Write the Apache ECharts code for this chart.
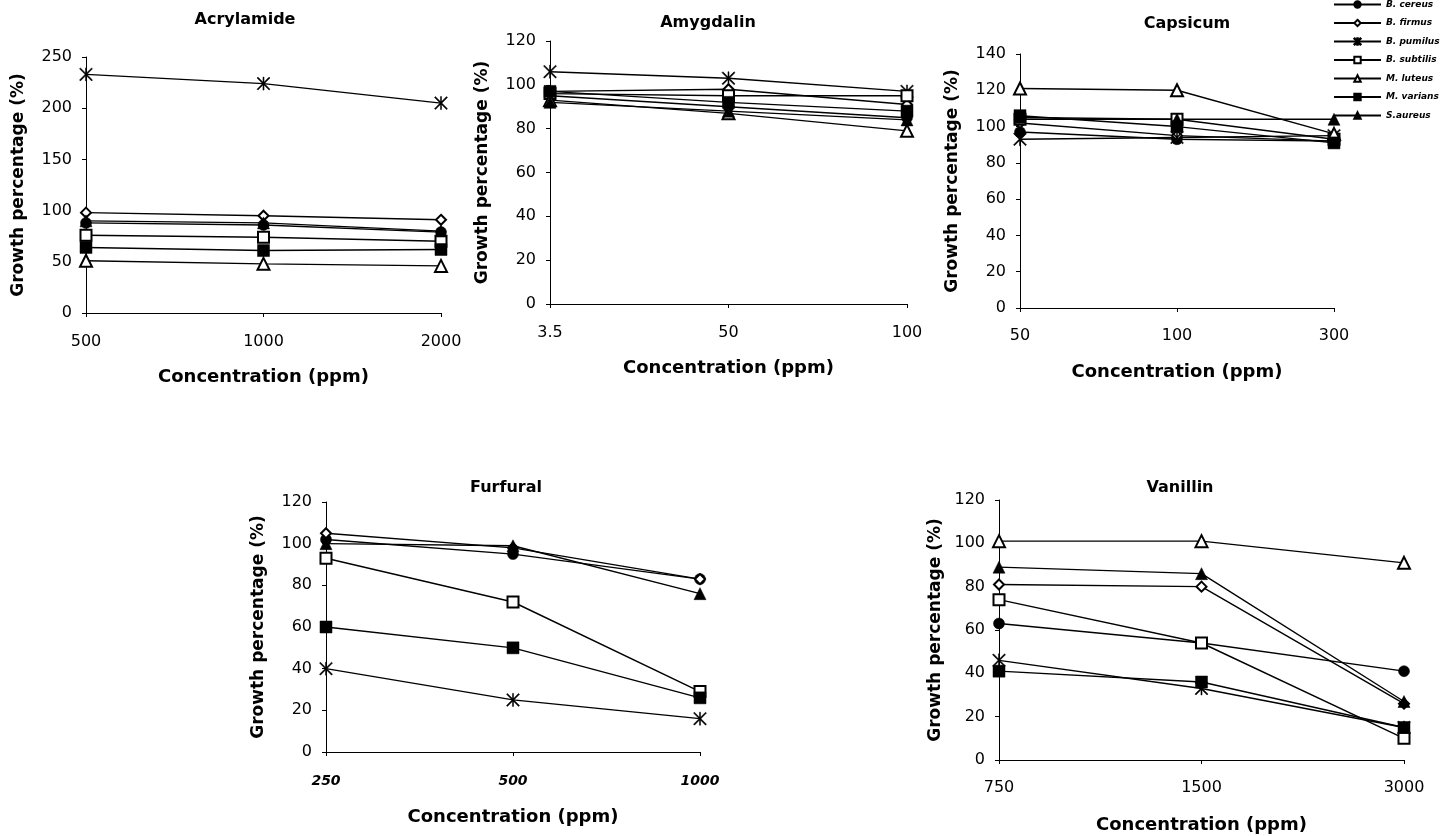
<!DOCTYPE html>
<html><head><meta charset="utf-8">
<script src="https://cdn.jsdelivr.net/npm/echarts@6/dist/echarts.min.js"></script>
<style>html,body{margin:0;padding:0;background:#fff}#c{width:1450px;height:836px}</style>
</head><body><div id="c"></div>
<script>
// ---- data ----
const bacteria = ['B. cereus', 'B. firmus', 'B. pumilus', 'B. subtilis', 'M. luteus', 'M. varians', 'S.aureus'];

const acrylamideConc = ['500', '1000', '2000'];
const acrylamideValues = [
  [88, 86, 79],
  [98, 95, 91],
  [233, 224, 205],
  [76, 74, 70],
  [51, 48, 46],
  [64, 61, 62],
  [90, 88, 80]
];

const amygdalinConc = ['3.5', '50', '100'];
const amygdalinValues = [
  [95, 90, 85],
  [97, 98, 91],
  [106, 103, 97],
  [96, 95, 95],
  [93, 87, 79],
  [97, 92, 88],
  [92, 88, 84]
];

const capsicumConc = ['50', '100', '300'];
const capsicumValues = [
  [97, 93, 92],
  [102, 95, 92],
  [93, 94, 95],
  [104, 104, 93],
  [121, 120, 96],
  [106, 100, 91],
  [105, 104, 104]
];

const furfuralConc = ['250', '500', '1000'];
const furfuralValues = [
  [102, 95, 83],
  [105, 98, 83],
  [40, 25, 16],
  [93, 72, 29],
  [null, null, null],
  [60, 50, 26],
  [100, 99, 76]
];

const vanillinConc = ['750', '1500', '3000'];
const vanillinValues = [
  [63, 54, 41],
  [81, 80, 26],
  [46, 33, 15],
  [74, 54, 10],
  [101, 101, 91],
  [41, 36, 15],
  [89, 86, 27]
];

// ---- styling ----
const asterisk = 'path://M0,0.7L0.7,0L10,9.3L9.3,10Z M9.3,0L10,0.7L0.7,10L0,9.3Z M4.6,0L5.4,0L5.4,10L4.6,10Z';
const symbols = ['circle', 'emptyDiamond', asterisk, 'emptyRect', 'emptyTriangle', 'rect', 'triangle'];
const symbolSizes = [11, 10, 13, 11, 12, 12, 12];

const panels = [
  {title: 'Acrylamide', conc: acrylamideConc, values: acrylamideValues, max: 250, interval: 50,
   grid: {left: 86, top: 57, width: 355, height: 256}, tx: 245, ty: 20, xGap: 55, yGap: 59, italic: false, lm: 21},
  {title: 'Amygdalin', conc: amygdalinConc, values: amygdalinValues, max: 120, interval: 20,
   grid: {left: 550, top: 41, width: 357, height: 263}, tx: 708, ty: 23, xGap: 55, yGap: 59, italic: false, lm: 21},
  {title: 'Capsicum', conc: capsicumConc, values: capsicumValues, max: 140, interval: 20,
   grid: {left: 1020, top: 54, width: 314, height: 254}, tx: 1187, ty: 24, xGap: 55, yGap: 59, italic: false, lm: 20},
  {title: 'Furfural', conc: furfuralConc, values: furfuralValues, max: 120, interval: 20,
   grid: {left: 326, top: 502, width: 374, height: 250}, tx: 506, ty: 488, xGap: 56, yGap: 59, italic: true, lm: 22},
  {title: 'Vanillin', conc: vanillinConc, values: vanillinValues, max: 120, interval: 20,
   grid: {left: 999, top: 500, width: 405, height: 260}, tx: 1180, ty: 488, xGap: 56, yGap: 55, italic: false, lm: 20}
];

const FONT = 'DejaVu Sans';
const grids = [], xAxes = [], yAxes = [], series = [], graphics = [];
panels.forEach((p, i) => {
  grids.push(Object.assign({containLabel: false}, p.grid));
  xAxes.push({
    type: 'category', gridIndex: i, data: p.conc, boundaryGap: false,
    name: 'Concentration (ppm)', nameLocation: 'middle', nameGap: p.xGap,
    nameTextStyle: {fontFamily: FONT, fontWeight: 'bold', fontSize: 18, color: '#000'},
    axisLine: {show: true, lineStyle: {color: '#000', width: 1}},
    axisTick: {show: true, length: 4, lineStyle: {color: '#000'}},
    axisLabel: {color: '#000', fontFamily: FONT, fontSize: p.italic ? 14 : 16, margin: p.lm,
      fontWeight: p.italic ? 'bold' : 'normal', fontStyle: p.italic ? 'italic' : 'normal',
      showMinLabel: true, showMaxLabel: true, interval: 0},
    splitLine: {show: false}
  });
  yAxes.push({
    type: 'value', gridIndex: i, min: 0, max: p.max, interval: p.interval,
    name: 'Growth percentage (%)', nameLocation: 'middle', nameGap: p.yGap, nameRotate: 90,
    nameTextStyle: {fontFamily: FONT, fontWeight: 'bold', fontSize: 17, color: '#000'},
    axisLine: {show: true, lineStyle: {color: '#000', width: 1}},
    axisTick: {show: true, length: 4, lineStyle: {color: '#000'}},
    axisLabel: {color: '#000', fontFamily: FONT, fontSize: 16, margin: 14},
    splitLine: {show: false}
  });
  graphics.push({type: 'text', x: p.tx, y: p.ty,
    style: {text: p.title, fill: '#000', font: 'bold 16px "DejaVu Sans"', textAlign: 'center', textVerticalAlign: 'middle'}});
  bacteria.forEach((b, k) => {
    series.push({
      name: b, type: 'line', xAxisIndex: i, yAxisIndex: i,
      data: p.values[k],
      symbol: symbols[k], symbolSize: symbolSizes[k], symbolKeepAspect: true,
      showAllSymbol: true,
      lineStyle: {color: '#000', width: 1.4},
      itemStyle: {color: '#000', borderColor: '#000', borderWidth: symbols[k].indexOf('empty') === 0 ? 1.6 : 0.5},
      emphasis: {disabled: true},
      z: 2
    });
  });
});

const chart = echarts.init(document.getElementById('c'), null, {renderer: 'canvas'});
chart.setOption({
  backgroundColor: '#fff',
  animation: false,
  grid: grids, xAxis: xAxes, yAxis: yAxes, series: series,
  graphic: graphics,
  legend: {
    data: bacteria, orient: 'vertical', left: 1333, top: 0, padding: 0,
    itemWidth: 47, itemHeight: 8, itemGap: 9.5,
    textStyle: {fontFamily: FONT, fontSize: 9, fontWeight: 'bold', fontStyle: 'italic', color: '#000'}
  }
});
</script></body></html>
